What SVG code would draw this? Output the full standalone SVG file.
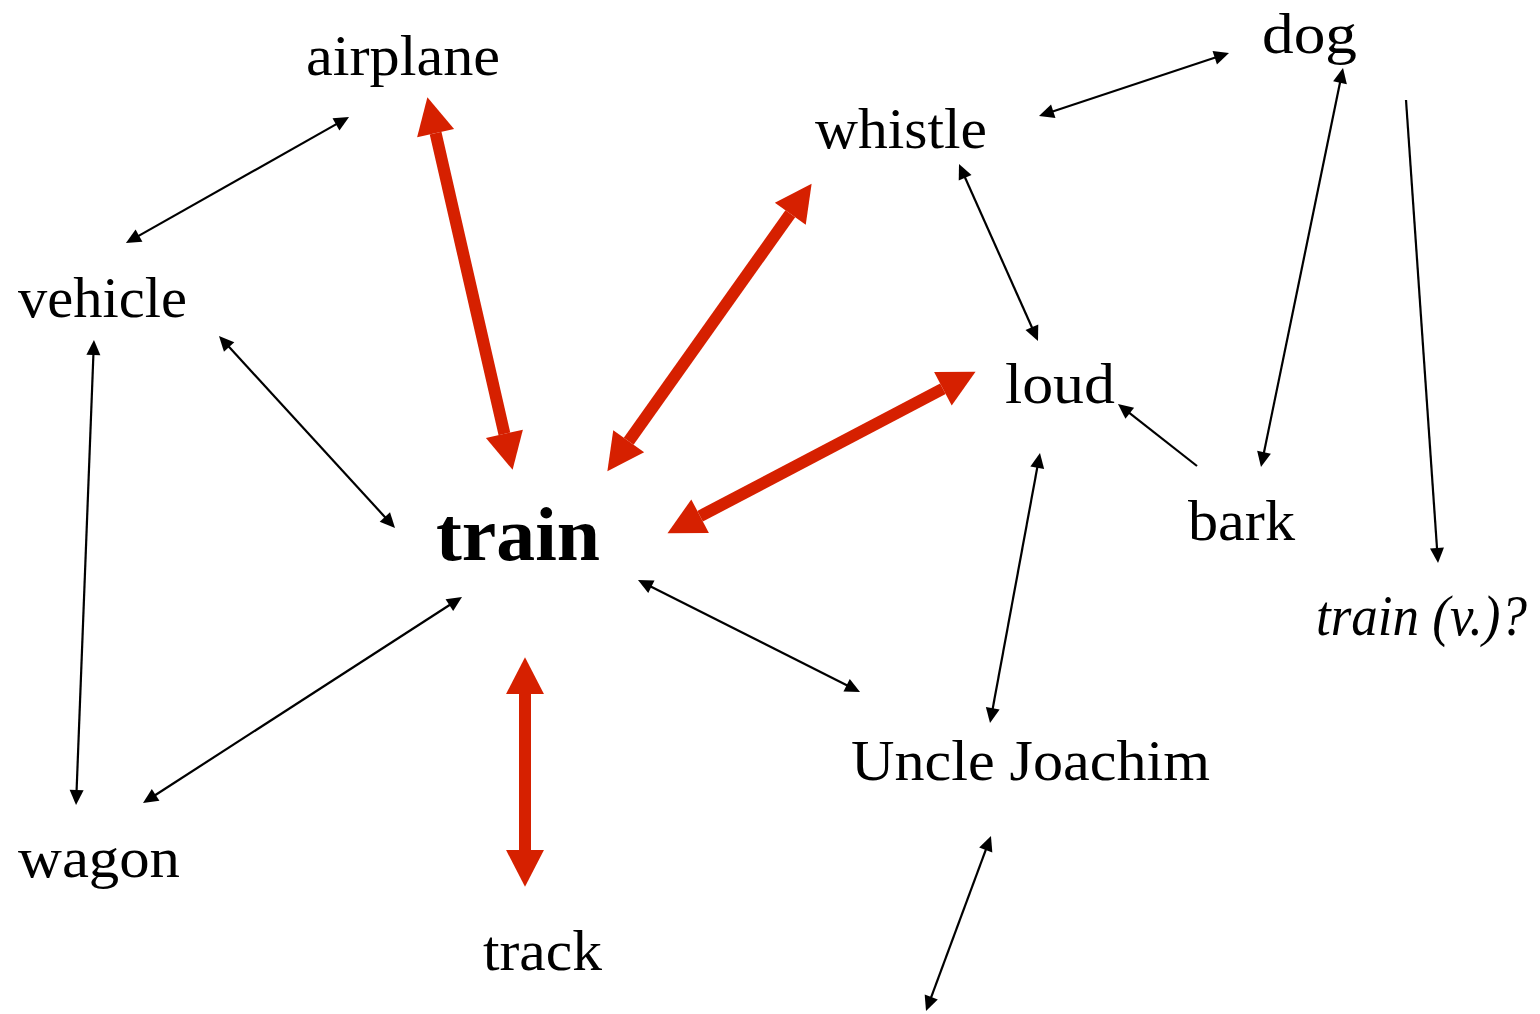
<svg xmlns="http://www.w3.org/2000/svg" width="1540" height="1014" viewBox="0 0 1540 1014">
<style>
text{font-family:"Liberation Serif","Times New Roman",serif;fill:#000;}
.n{font-size:58px;}
.b{font-size:76px;font-weight:bold;}
.i{font-size:56px;font-style:italic;}
.r{stroke:#d62000;stroke-width:12;fill:none;}
.k{stroke:#000;stroke-width:2.2;fill:none;}
.rr{marker-start:url(#rh);marker-end:url(#rh);}
.kk{marker-start:url(#kh);marker-end:url(#kh);}
.k1{marker-end:url(#kh);}
</style>
<defs>
<marker id="rh" markerUnits="userSpaceOnUse" markerWidth="40" markerHeight="40" viewBox="0 -19 36 38" refX="0" refY="0" orient="auto-start-reverse" overflow="visible">
<path d="M0,-18 L35,0 L0,18 z" fill="#d62000"/>
</marker>
<marker id="kh" markerUnits="userSpaceOnUse" markerWidth="18" markerHeight="16" viewBox="0 -8 17 16" refX="3" refY="0" orient="auto-start-reverse" overflow="visible">
<path d="M0,-7 L15,0 L0,7 z" fill="#000"/>
</marker>
</defs>
<rect width="1540" height="1014" fill="#fff"/>
<g id="connectors">
<line class="r rr" x1="435.6" y1="133.1" x2="504.4" y2="433.9"/>
<line class="r rr" x1="790.3" y1="213.7" x2="628.7" y2="441.3"/>
<line class="r rr" x1="942.9" y1="388.8" x2="700.1" y2="516.2"/>
<line class="r rr" x1="525" y1="694" x2="525" y2="850"/>
<line class="k kk" x1="338.6" y1="122.9" x2="136.4" y2="237.1"/>
<line class="k kk" x1="227.1" y1="344.8" x2="386.9" y2="519.2"/>
<line class="k kk" x1="93.5" y1="352" x2="76.5" y2="793"/>
<line class="k kk" x1="451.9" y1="603.5" x2="153.1" y2="796.5"/>
<line class="k kk" x1="648.7" y1="585.4" x2="849.3" y2="686.6"/>
<line class="k kk" x1="1217.6" y1="56.8" x2="1050.4" y2="112.2"/>
<line class="k kk" x1="963.9" y1="175" x2="1033.1" y2="330"/>
<line class="k k1" x1="1197" y1="466" x2="1127.4" y2="411.4"/>
<line class="k kk" x1="1340.6" y1="79.8" x2="1263.4" y2="455.2"/>
<line class="k k1" x1="1406" y1="100" x2="1437.2" y2="551"/>
<line class="k kk" x1="1037.8" y1="464.8" x2="992.2" y2="711.2"/>
<line class="k kk" x1="986.8" y1="847.2" x2="930.2" y2="999.8"/>
</g>
<g id="airplane"><text class="n" x="306" y="75" textLength="194" lengthAdjust="spacingAndGlyphs">airplane</text></g>
<g id="whistle"><text class="n" x="815" y="148" textLength="172" lengthAdjust="spacingAndGlyphs">whistle</text></g>
<g id="dog"><text class="n" x="1262" y="53" textLength="95" lengthAdjust="spacingAndGlyphs">dog</text></g>
<g id="vehicle"><text class="n" x="18" y="317" textLength="169" lengthAdjust="spacingAndGlyphs">vehicle</text></g>
<g id="loud"><text class="n" x="1005" y="403" textLength="110" lengthAdjust="spacingAndGlyphs">loud</text></g>
<g id="train"><text class="b" x="436" y="560" textLength="164" lengthAdjust="spacingAndGlyphs">train</text></g>
<g id="bark"><text class="n" x="1188" y="540" textLength="107" lengthAdjust="spacingAndGlyphs">bark</text></g>
<g id="train-v"><text class="i" x="1316" y="635" textLength="211" lengthAdjust="spacingAndGlyphs">train (v.)?</text></g>
<g id="uncle-joachim"><text class="n" x="851" y="780" textLength="359" lengthAdjust="spacingAndGlyphs">Uncle Joachim</text></g>
<g id="wagon"><text class="n" x="18" y="877" textLength="162" lengthAdjust="spacingAndGlyphs">wagon</text></g>
<g id="track"><text class="n" x="483" y="970" textLength="119" lengthAdjust="spacingAndGlyphs">track</text></g>
</svg>
